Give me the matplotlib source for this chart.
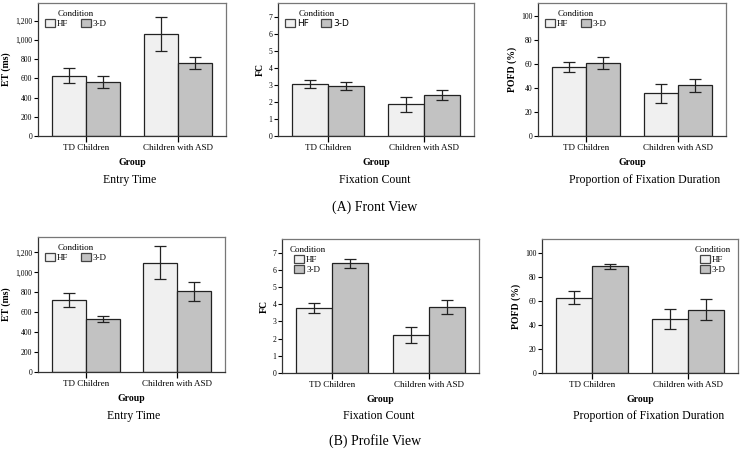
import numpy as np
import matplotlib
matplotlib.use('Agg')
import matplotlib.pyplot as plt
from matplotlib.ticker import FuncFormatter

plt.rcParams['font.family'] = ['Liberation Serif', 'DejaVu Serif']

groups = ['TD Children', 'Children with ASD']
conditions = ['HF', '3-D']

# front view: means and error half-widths, [TD, ASD]
et_front_hf = [630, 1060]
et_front_3d = [560, 762]
et_front_hf_err = [78, 175]
et_front_3d_err = [60, 60]

fc_front_hf = [3.07, 1.85]
fc_front_3d = [2.93, 2.40]
fc_front_hf_err = [0.23, 0.43]
fc_front_3d_err = [0.22, 0.30]

pofd_front_hf = [57.8, 35.6]
pofd_front_3d = [60.8, 42.2]
pofd_front_hf_err = [4.3, 7.8]
pofd_front_3d_err = [4.8, 5.2]

# profile view
et_prof_hf = [722, 1097]
et_prof_3d = [530, 810]
et_prof_hf_err = [67, 163]
et_prof_3d_err = [32, 94]

fc_prof_hf = [3.80, 2.22]
fc_prof_3d = [6.38, 3.85]
fc_prof_hf_err = [0.30, 0.46]
fc_prof_3d_err = [0.24, 0.40]

pofd_prof_hf = [62.7, 45.0]
pofd_prof_3d = [88.6, 52.7]
pofd_prof_hf_err = [5.3, 8.3]
pofd_prof_3d_err = [2.3, 9.0]

hf_color = '#f0f0f0'
td_color = '#c2c2c2'

W, H = 740, 450
fig = plt.figure(figsize=(W / 100, H / 100), dpi=100)


def px_axes(x0, x1, y0, y1):
    return fig.add_axes([x0 / W, 1 - y1 / H, (x1 - x0) / W, (y1 - y0) / H])


def draw(ax, hf, d3, hf_err, d3_err, ylim, yticks, ylabel, comma=False,
         leg_loc='upper left', leg_cols=2, sans_legend=False):
    x = np.arange(len(groups))
    w = 0.37
    ek = dict(ecolor='#222222', elinewidth=0.9, capsize=4.5, capthick=0.9)
    ax.bar(x - w / 2, hf, w, yerr=hf_err, color=hf_color, edgecolor='#222222',
           linewidth=0.9, label=conditions[0], error_kw=ek)
    ax.bar(x + w / 2, d3, w, yerr=d3_err, color=td_color, edgecolor='#222222',
           linewidth=0.9, label=conditions[1], error_kw=ek)
    ax.set_xlim(-0.52, 1.52)
    ax.set_ylim(*ylim)
    ax.set_yticks(yticks)
    ax.set_xticks(x)
    ax.set_xticklabels(groups, fontsize=6.5)
    ax.tick_params(axis='y', labelsize=5.5, length=3, width=0.8, pad=1)
    ax.tick_params(axis='x', length=4, width=0.9, pad=2)
    if comma:
        ax.yaxis.set_major_formatter(FuncFormatter(lambda v, p: f'{int(v):,}'))
    ax.set_ylabel(ylabel, fontsize=7, fontweight='bold', labelpad=3)
    ax.set_xlabel('Group', fontsize=7, fontweight='bold', labelpad=4)
    for s in ['top', 'right']:
        ax.spines[s].set_color('#777777')
    for s in ['left', 'bottom']:
        ax.spines[s].set_color('#333333')
    for s in ax.spines.values():
        s.set_linewidth(0.9)
    lp = dict(size=6.5)
    if sans_legend:
        lp = dict(size=6.5, family='DejaVu Sans')
    leg = ax.legend(loc=leg_loc, ncol=leg_cols, frameon=False, title='Condition',
                    title_fontsize=6.5, prop=lp, handlelength=1.1,
                    handleheight=1.0, handletextpad=0.2, columnspacing=1.4,
                    labelspacing=0.1, borderaxespad=0.4)
    for p in leg.get_patches():
        p.set_edgecolor('#444444')


# top row: front view
ax1 = px_axes(38, 226, 3, 136)
draw(ax1, et_front_hf, et_front_3d, et_front_hf_err, et_front_3d_err,
     (0, 1385), np.arange(0, 1201, 200), 'ET (ms)', comma=True)
ax2 = px_axes(278, 474, 3, 136)
draw(ax2, fc_front_hf, fc_front_3d, fc_front_hf_err, fc_front_3d_err,
     (0, 7.8), np.arange(0, 8), 'FC', sans_legend=True)
ax3 = px_axes(538, 726, 3, 136)
draw(ax3, pofd_front_hf, pofd_front_3d, pofd_front_hf_err, pofd_front_3d_err,
     (0, 111), np.arange(0, 101, 20), 'POFD (%)')

# bottom row: profile view
ax4 = px_axes(38, 225, 237, 372)
draw(ax4, et_prof_hf, et_prof_3d, et_prof_hf_err, et_prof_3d_err,
     (0, 1355), np.arange(0, 1201, 200), 'ET (ms)', comma=True)
ax5 = px_axes(282, 479, 239, 373)
draw(ax5, fc_prof_hf, fc_prof_3d, fc_prof_hf_err, fc_prof_3d_err,
     (0, 7.8), np.arange(0, 8), 'FC', leg_cols=1)
ax6 = px_axes(542, 738, 239, 373)
draw(ax6, pofd_prof_hf, pofd_prof_3d, pofd_prof_hf_err, pofd_prof_3d_err,
     (0, 111.4), np.arange(0, 101, 20), 'POFD (%)', leg_loc='upper right',
     leg_cols=1)

subtitles = ['Entry Time', 'Fixation Count', 'Proportion of Fixation Duration']
sub_x = [130, 375, 645]
for xx, t in zip(sub_x, subtitles):
    fig.text(xx / W, 1 - 180 / H, t, ha='center', va='center', fontsize=8.5)
for xx, t in zip(sub_x, subtitles):
    fig.text((xx + 4) / W, 1 - 416 / H, t, ha='center', va='center', fontsize=8.5)

fig.text(375 / W, 1 - 207 / H, '(A) Front View', ha='center', va='center', fontsize=10)
fig.text(375 / W, 1 - 441 / H, '(B) Profile View', ha='center', va='center', fontsize=10)

fig.savefig('out.png', dpi=100)
